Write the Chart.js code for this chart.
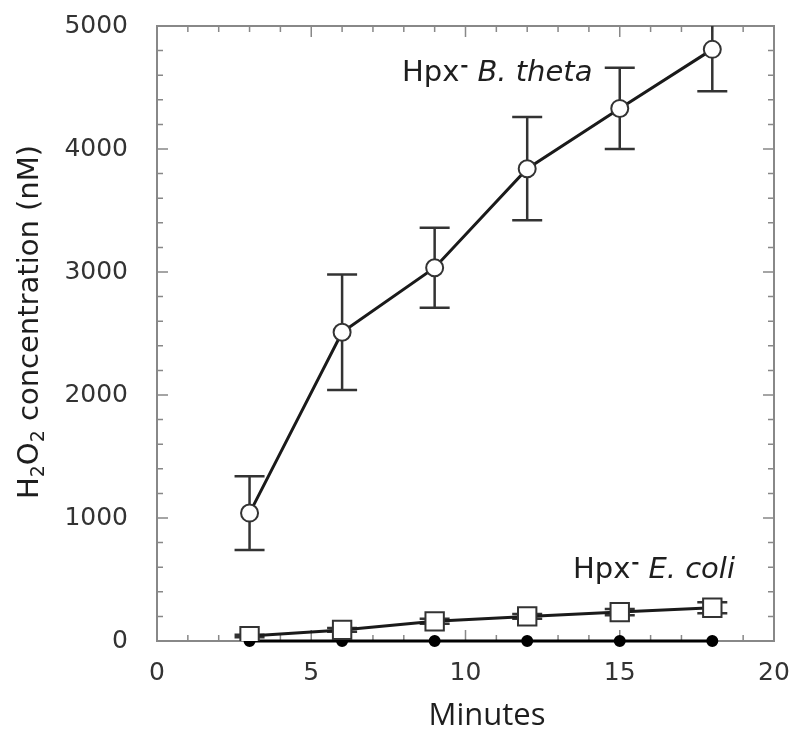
<!DOCTYPE html>
<html>
<head>
<meta charset="utf-8">
<script src="https://cdn.jsdelivr.net/npm/chart.js@4.4.1/dist/chart.umd.min.js"></script>
<style>
  html, body { margin: 0; padding: 0; background: #fff; }
  #chart { display: block; }
</style>
</head>
<body>
<canvas id="chart" width="800" height="737"></canvas>
<script>
// Data
const minutes = [3, 6, 9, 12, 15, 18];
const thetaMean = [1040, 2510, 3035, 3840, 4330, 4810];
const thetaErr = [300, 470, 325, 420, 330, 340];
const coliMean = [40, 90, 160, 200, 235, 270];
const coliErr = [10, 15, 20, 20, 25, 45];
const controlMean = [0, 0, 0, 0, 0, 0];
const xTicks = [0, 5, 10, 15, 20];
const yTicks = [0, 1000, 2000, 3000, 4000, 5000];

const FONT = '"DejaVu Sans", sans-serif';
const toPoints = (ys) => minutes.map((m, i) => ({ x: m, y: ys[i] }));

// Error bars drawn under the markers, clipped to the plot box
const errorBars = {
    id: 'errorBars',
    beforeDatasetsDraw(chart) {
        const { ctx, chartArea: a, scales: { x, y } } = chart;
        const sets = [[thetaMean, thetaErr], [coliMean, coliErr]];
        ctx.save();
        ctx.beginPath();
        ctx.rect(a.left, a.top, a.right - a.left, a.bottom - a.top);
        ctx.clip();
        ctx.strokeStyle = '#333';
        ctx.lineWidth = 2.5;
        sets.forEach(([mean, err]) => {
            minutes.forEach((m, i) => {
                const px = x.getPixelForValue(m);
                const top = y.getPixelForValue(mean[i] + err[i]);
                const bot = y.getPixelForValue(mean[i] - err[i]);
                ctx.beginPath();
                ctx.moveTo(px, top); ctx.lineTo(px, bot);
                ctx.moveTo(px - 15, top); ctx.lineTo(px + 15, top);
                ctx.moveTo(px - 15, bot); ctx.lineTo(px + 15, bot);
                ctx.stroke();
            });
        });
        ctx.restore();
    }
};

// Box frame with inward major/minor ticks
const frame = {
    id: 'frame',
    beforeDatasetsDraw(chart) {
        const { ctx, chartArea: a, scales: { x, y } } = chart;
        ctx.save();
        ctx.strokeStyle = '#888';
        ctx.lineWidth = 2;
        ctx.strokeRect(a.left, a.top, a.right - a.left, a.bottom - a.top);
        ctx.lineWidth = 1.5;
        ctx.beginPath();
        for (let v = 0; v <= 20; v += 1) {
            const px = x.getPixelForValue(v);
            const len = v % 5 === 0 ? 11 : 6;
            ctx.moveTo(px, a.bottom); ctx.lineTo(px, a.bottom - len);
            ctx.moveTo(px, a.top); ctx.lineTo(px, a.top + len);
        }
        for (let v = 0; v <= 5000; v += 200) {
            const py = y.getPixelForValue(v);
            const len = v % 1000 === 0 ? 11 : 6;
            ctx.moveTo(a.left, py); ctx.lineTo(a.left + len, py);
            ctx.moveTo(a.right, py); ctx.lineTo(a.right - len, py);
        }
        ctx.stroke();
        ctx.restore();
    }
};

// Series labels, axis titles
const labels = {
    id: 'labels',
    afterDraw(chart) {
        const { ctx } = chart;
        ctx.save();
        ctx.fillStyle = '#1e1e1e';
        ctx.textBaseline = 'alphabetic';

        function seriesLabel(x0, base, italic) {
            ctx.font = '29px ' + FONT;
            ctx.fillText('Hpx', x0, base);
            let w = ctx.measureText('Hpx').width;
            ctx.fillRect(x0 + w + 2, base - 16, 6, 2.5);
            w += 18;
            ctx.font = 'italic 29px ' + FONT;
            ctx.fillText(italic, x0 + w, base);
        }
        seriesLabel(402, 81, 'B. theta');
        seriesLabel(573, 578, 'E. coli');

        // x title, sits a little right of the plot centre
        ctx.font = '31px "Open Sans", sans-serif';
        ctx.textAlign = 'center';
        ctx.fillText('Minutes', 487, 725);
        ctx.textAlign = 'left';

        // rotated y title with subscripts
        ctx.translate(38, 322);
        ctx.rotate(-Math.PI / 2);
        const parts = [['H', 0], ['2', 1], ['O', 0], ['2', 1], [' concentration (nM)', 0]];
        const fontFor = (sub) => (sub ? '19px ' : '29px ') + FONT;
        let total = 0;
        parts.forEach(([t, sub]) => { ctx.font = fontFor(sub); total += ctx.measureText(t).width; });
        let cx = -total / 2;
        parts.forEach(([t, sub]) => {
            ctx.font = fontFor(sub);
            ctx.fillText(t, cx, sub ? 6 : 0);
            cx += ctx.measureText(t).width;
        });
        ctx.restore();
    }
};

new Chart(document.getElementById('chart'), {
    type: 'line',
    data: {
        datasets: [
            {
                label: 'Hpx- B. theta',
                data: toPoints(thetaMean),
                borderColor: '#1a1a1a',
                borderWidth: 3,
                pointStyle: 'circle',
                pointRadius: 8.5,
                pointBackgroundColor: '#fff',
                pointBorderColor: '#333',
                pointBorderWidth: 2
            },
            {
                label: 'Hpx- E. coli',
                data: toPoints(coliMean),
                borderColor: '#1a1a1a',
                borderWidth: 3,
                pointStyle: 'rect',
                pointRadius: 13,
                pointBackgroundColor: '#fff',
                pointBorderColor: '#333',
                pointBorderWidth: 2
            },
            {
                label: 'control',
                data: toPoints(controlMean),
                borderColor: '#000',
                borderWidth: 3,
                pointStyle: 'circle',
                pointRadius: 4.5,
                pointBackgroundColor: '#000',
                pointBorderColor: '#000',
                clip: false
            }
        ]
    },
    options: {
        responsive: false,
        animation: false,
        layout: { padding: { top: 26, right: 26, left: 0, bottom: 0 } },
        plugins: { legend: { display: false }, tooltip: { enabled: false } },
        scales: {
            x: {
                type: 'linear',
                min: 0, max: 20,
                afterBuildTicks: (s) => { s.ticks = xTicks.map(v => ({ value: v })); },
                afterFit: (s) => { s.height = 96; s.paddingLeft = 0; s.paddingRight = 0; },
                grid: { display: false },
                border: { display: false },
                ticks: { color: '#333', padding: 9, font: { size: 25, family: FONT }, callback: (v) => String(v) }
            },
            y: {
                type: 'linear',
                min: 0, max: 5000,
                afterBuildTicks: (s) => { s.ticks = yTicks.map(v => ({ value: v })); },
                afterFit: (s) => { s.width = 157; s.paddingTop = 0; s.paddingBottom = 0; },
                grid: { display: false },
                border: { display: false },
                ticks: { color: '#333', padding: 21, font: { size: 25, family: FONT }, callback: (v) => String(v) }
            }
        }
    },
    plugins: [frame, errorBars, labels]
});
</script>
</body>
</html>
